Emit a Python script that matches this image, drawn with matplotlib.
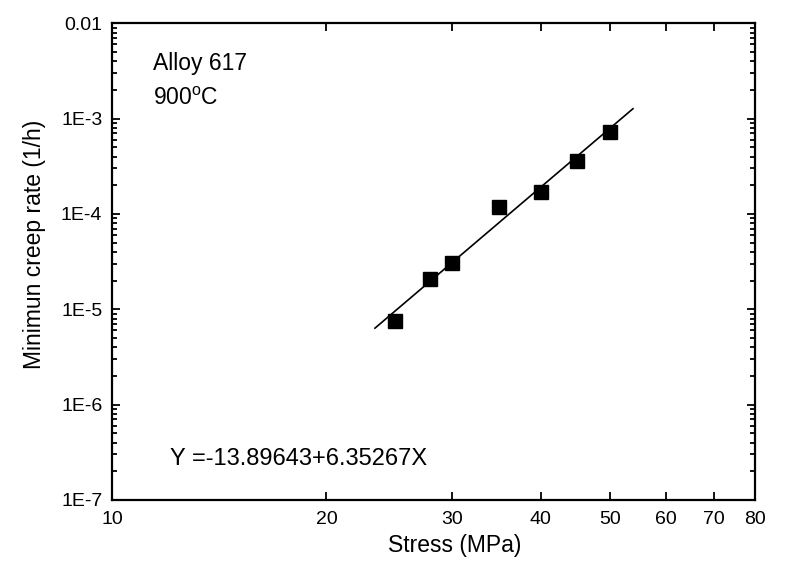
import numpy as np
import matplotlib
matplotlib.use("Agg")
import matplotlib.pyplot as plt
from matplotlib.ticker import FixedLocator, NullLocator, LogLocator, FuncFormatter

plt.rcParams["font.family"] = ["Liberation Sans", "DejaVu Sans"]

# measured minimum creep rates
stress = [25, 28, 30, 35, 40, 45, 50]
creep_rate = [7.5e-6, 2.07e-5, 3.05e-5, 1.18e-4, 1.70e-4, 3.57e-4, 7.2e-4]

# linear fit in log-log space: log10(Y) = a + b*log10(X)
fit_a = -13.89643
fit_b = 6.35267
fit_range = [23.4, 53.9]

x_ticks = [10, 20, 30, 40, 50, 60, 70, 80]
y_ticks = [1e-7, 1e-6, 1e-5, 1e-4, 1e-3, 1e-2]
y_labels = ["1E-7", "1E-6", "1E-5", "1E-4", "1E-3", "0.01"]

fig = plt.figure(figsize=(7.89, 5.82), dpi=100)
ax = fig.add_axes([0.142, 0.141, 0.815, 0.819])

xf = np.array(fit_range)
ax.plot(xf, 10 ** (fit_a + fit_b * np.log10(xf)), color="black", linewidth=1.2)
ax.plot(stress, creep_rate, linestyle="none", marker="s", markersize=10.5,
        color="black", zorder=5)

ax.set_xscale("log")
ax.set_yscale("log")
ax.set_xlim(10, 80)
ax.set_ylim(1e-7, 1e-2)

ax.xaxis.set_major_locator(FixedLocator(x_ticks))
ax.xaxis.set_minor_locator(NullLocator())
ax.xaxis.set_major_formatter(FuncFormatter(lambda v, _: f"{v:g}"))
ax.yaxis.set_major_locator(FixedLocator(y_ticks))
ax.yaxis.set_minor_locator(LogLocator(base=10, subs=np.arange(2, 10), numticks=20))
lbl = dict(zip(y_ticks, y_labels))
ax.yaxis.set_major_formatter(FuncFormatter(
    lambda v, _: next((l for t, l in lbl.items() if abs(np.log10(v) - np.log10(t)) < 1e-6), "")))

for s in ax.spines.values():
    s.set_linewidth(1.6)
ax.tick_params(which="both", direction="in", top=True, right=True,
               labelsize=14, width=1.3)
ax.tick_params(which="major", length=6)
ax.tick_params(which="minor", length=3.5)
ax.tick_params(axis="x", which="major", pad=8)
ax.tick_params(axis="y", which="major", pad=7)

ax.set_xlabel("Stress (MPa)", fontsize=16.5)
ax.set_ylabel("Minimun creep rate (1/h)", fontsize=16.5)
ax.xaxis.set_label_coords(0.533, -0.072)
ax.yaxis.set_label_coords(-0.102, 0.537)

ax.text(0.064, 0.916, "Alloy 617", transform=ax.transAxes, fontsize=16.5, va="center")
ax.text(0.064, 0.843, "900$^{\\mathregular{o}}$C", transform=ax.transAxes, fontsize=16.5, va="center")
ax.text(0.09, 0.085, "Y =-13.89643+6.35267X", transform=ax.transAxes, fontsize=17, va="center")

fig.savefig("out.png", dpi=100)
